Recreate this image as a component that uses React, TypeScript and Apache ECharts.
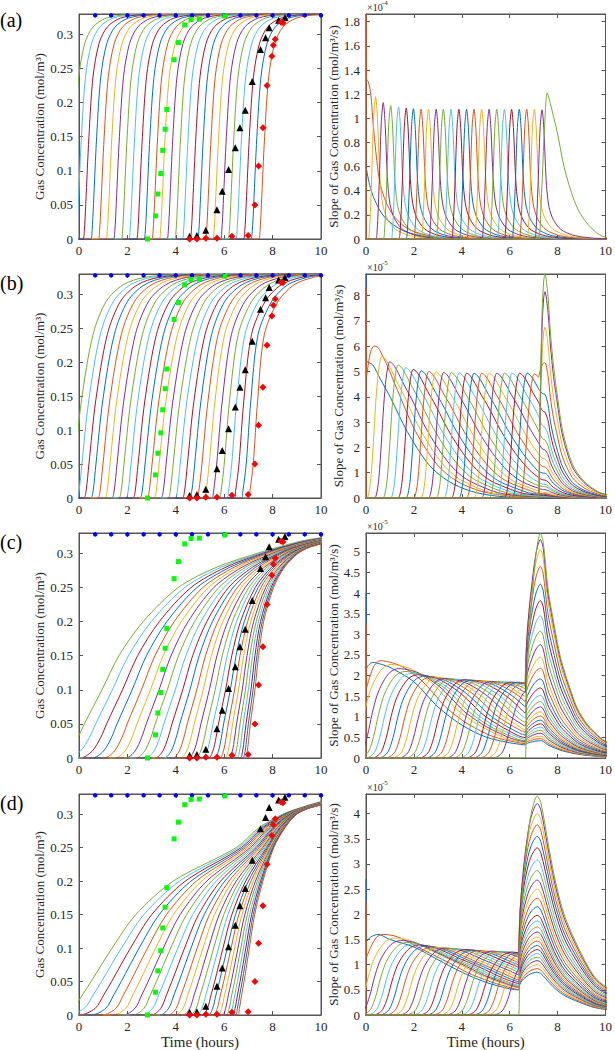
import React, { useEffect, useRef } from "react";
import * as echarts from "echarts";

type Pt = [number, number];

const LINE_COLORS = ["#0072BD", "#D95319", "#EDB120", "#7E2F8E", "#77AC30", "#4DBEEE", "#A2142F"];
const FONT = "Liberation Serif, Times New Roman, serif";

// ---------------- measured markers (same in every concentration panel) ----------------
const blueDots: Pt[] = [[0.67, 0.328], [1.33, 0.328], [2.0, 0.328], [2.67, 0.328], [3.33, 0.328], [4.0, 0.328], [4.67, 0.328], [5.33, 0.328], [6.0, 0.328], [6.67, 0.328], [7.33, 0.328], [8.0, 0.328], [8.67, 0.328], [9.33, 0.328], [10.0, 0.328]];
const greenSquares: Pt[] = [[2.83, 0.0], [3.16, 0.034], [3.26, 0.066], [3.38, 0.096], [3.46, 0.13], [3.56, 0.161], [3.63, 0.19], [3.93, 0.263], [4.11, 0.288], [4.37, 0.314], [4.63, 0.322], [4.97, 0.3225], [6.03, 0.327]];
const blackTriangles: Pt[] = [[4.57, 0.004], [4.87, 0.005], [5.24, 0.013], [5.7, 0.043], [5.92, 0.07], [6.18, 0.102], [6.46, 0.134], [6.65, 0.163], [6.87, 0.189], [7.16, 0.231], [7.5, 0.278], [7.71, 0.295], [7.86, 0.31], [8.25, 0.321], [8.51, 0.325]];
const redDiamonds: Pt[] = [[4.57, 0.0], [4.87, 0.0], [5.24, 0.001], [5.7, 0.001], [6.32, 0.004], [6.99, 0.005], [7.27, 0.05], [7.42, 0.107], [7.6, 0.163], [7.77, 0.225], [7.97, 0.268], [8.03, 0.284], [8.11, 0.293], [8.35, 0.318], [8.43, 0.317]];

// ---------------- (a) concentration: rise start of each curve + curve shape ----------------
const concA_starts = [-0.41, -0.13, 0.18, 0.5, 0.81, 1.13, 1.44, 1.76, 2.07, 2.39, 2.7, 3.02, 3.33, 3.65, 3.97, 4.28, 4.6, 4.91, 5.23, 5.54, 5.86, 6.17, 6.49, 6.81, 7.12, 7.44];
const concA_shape: Pt[] = [[-0.6, 0], [-0.03, 0], [0.04, 0.012], [0.1, 0.052], [0.23, 0.15], [0.4, 0.238], [0.65, 0.287], [0.99, 0.311], [1.54, 0.324], [2.5, 0.329], [12, 0.33]];

// ---------------- (b) concentration: time at which each curve crosses each level ----------------
const concB_levels = [0, 0.01, 0.05, 0.143, 0.241, 0.29, 0.314, 0.325, 0.329];
const concB_times = [
  [-0.4, -0.3, -0.18, 0.1, 0.58, 1.13, 1.82, 2.7, 4.1],
  [-0.1, 0.0, 0.12, 0.4, 0.88, 1.43, 2.12, 3.0, 4.4],
  [0.19, 0.29, 0.41, 0.69, 1.17, 1.72, 2.41, 3.29, 4.69],
  [0.48, 0.58, 0.7, 0.98, 1.46, 2.01, 2.7, 3.58, 4.98],
  [0.77, 0.87, 0.99, 1.27, 1.75, 2.3, 2.99, 3.87, 5.27],
  [1.06, 1.16, 1.28, 1.56, 2.04, 2.59, 3.28, 4.16, 5.56],
  [1.35, 1.45, 1.57, 1.85, 2.33, 2.88, 3.57, 4.45, 5.85],
  [1.64, 1.74, 1.86, 2.14, 2.62, 3.17, 3.86, 4.74, 6.14],
  [1.93, 2.03, 2.15, 2.43, 2.91, 3.46, 4.15, 5.03, 6.43],
  [2.22, 2.32, 2.44, 2.72, 3.2, 3.75, 4.44, 5.32, 6.72],
  [2.51, 2.61, 2.73, 3.01, 3.49, 4.04, 4.73, 5.61, 7.01],
  [2.8, 2.9, 3.02, 3.3, 3.78, 4.33, 5.02, 5.9, 7.3],
  [3.09, 3.19, 3.31, 3.59, 4.07, 4.62, 5.31, 6.19, 7.59],
  [3.38, 3.48, 3.6, 3.88, 4.36, 4.91, 5.6, 6.48, 7.88],
  [3.67, 3.77, 3.89, 4.17, 4.65, 5.2, 5.89, 6.77, 8.17],
  [3.96, 4.06, 4.18, 4.46, 4.94, 5.49, 6.18, 7.06, 8.46],
  [4.26, 4.36, 4.48, 4.75, 5.21, 5.76, 6.45, 7.32, 8.65],
  [4.56, 4.66, 4.78, 5.04, 5.48, 6.03, 6.72, 7.58, 8.84],
  [4.87, 4.95, 5.08, 5.33, 5.75, 6.31, 6.98, 7.84, 9.03],
  [5.17, 5.25, 5.38, 5.62, 6.02, 6.58, 7.25, 8.1, 9.22],
  [5.48, 5.56, 5.69, 5.92, 6.3, 6.86, 7.53, 8.37, 9.42],
  [5.79, 5.87, 6.0, 6.22, 6.58, 7.14, 7.81, 8.64, 9.62],
  [6.1, 6.18, 6.31, 6.52, 6.86, 7.42, 8.09, 8.91, 9.82],
  [6.41, 6.47, 6.61, 6.81, 7.13, 7.7, 8.35, 9.17, 10.01],
  [6.71, 6.77, 6.91, 7.1, 7.4, 7.97, 8.62, 9.43, 10.2],
  [7.0, 7.06, 7.2, 7.38, 7.66, 8.23, 8.88, 9.68, 10.38],
];

// ---------------- (c) and (d) concentration: level crossings of the first and last curve,
// and where each curve sits between them (0 = first curve, 1 = last curve) ----------------
const concCD_levels = [0, 0.01, 0.03, 0.05, 0.1, 0.15, 0.2, 0.25, 0.28, 0.3, 0.31, 0.32, 0.33];
const concC_firstTimes = [-1.0, -0.45, -0.05, 0.22, 0.95, 1.65, 2.65, 4.1, 5.7, 7.35, 8.3, 9.45, 11.5];
const concC_lastTimes = [6.85, 6.95, 7.02, 7.08, 7.27, 7.42, 7.63, 8.04, 8.5, 9.05, 9.6, 10.8, 13];
const concD_firstTimes = [-1.0, -0.25, 0.14, 0.5, 1.37, 2.35, 3.9, 6.5, 7.45, 8.43, 9.2, 10.2, 12.5];
const concD_lastTimes = [6.55, 6.63, 6.72, 6.82, 7.04, 7.26, 7.6, 8.05, 8.52, 9.0, 9.6, 10.9, 13];
const concCD_spread = [0, 0.068, 0.134, 0.197, 0.258, 0.317, 0.373, 0.427, 0.479, 0.528, 0.575, 0.62, 0.662, 0.702, 0.74, 0.775, 0.808, 0.839, 0.867, 0.893, 0.917, 0.938, 0.957, 0.974, 0.988, 1.0];

// ---------------- (a) slope (x1e-4) ----------------
const slopeA_shape: Pt[] = [[-12, 0], [-0.34, 0], [-0.26, 0.05], [-0.17, 0.4], [-0.08, 0.86], [0, 1], [0.08, 0.84], [0.17, 0.46], [0.27, 0.27], [0.42, 0.17], [0.65, 0.1], [0.9, 0.06], [1.4, 0.025], [2.2, 0.006], [3.5, 0], [12, 0]];
const slopeA_peakT = [0.4, 0.72, 1.03, 1.36, 1.68, 1.98, 2.3, 2.61, 2.93, 3.23, 3.55, 3.88, 4.2, 4.51, 4.83, 5.14, 5.46, 5.78, 6.08, 6.4, 6.71, 7.03, 7.35];
const slopeA_peakH = [1.18, 1.13, 1.105, 1.095, 1.085, 1.08, 1.075, 1.075, 1.075, 1.075, 1.075, 1.075, 1.075, 1.075, 1.075, 1.075, 1.075, 1.075, 1.075, 1.075, 1.075, 1.075, 1.07];
const slopeA_first: Pt[] = [[0, 0.6], [0.15, 0.45], [0.37, 0.32], [0.78, 0.18], [1.54, 0.07], [2.5, 0.02], [4, 0], [12, 0]];
const slopeA_second: Pt[] = [[0, 0], [0, 1.86], [0.015, 1.33], [0.1, 1.3], [0.2, 1.2], [0.3, 0.95], [0.45, 0.65], [0.6, 0.45], [0.85, 0.3], [1.2, 0.18], [1.8, 0.08], [2.8, 0.02], [4, 0], [12, 0]];
const slopeA_last: Pt[] = [[-12, 0], [6.9, 0], [7.22, 0.02], [7.3, 0.25], [7.36, 0.5], [7.46, 0.95], [7.57, 1.21], [7.7, 1.12], [8.0, 0.87], [8.28, 0.59], [8.69, 0.32], [9.04, 0.18], [9.52, 0.07], [10, 0.014], [11, 0]];

// ---------------- (b) slope (x1e-5) ----------------
const slopeB_shape: Pt[] = [[-12, 0], [-0.65, 0], [-0.55, 0.03], [-0.45, 0.15], [-0.35, 0.4], [-0.25, 0.68], [-0.15, 0.88], [-0.07, 0.97], [0, 1], [0.15, 0.98], [0.35, 0.92], [0.6, 0.83], [0.85, 0.75], [1.1, 0.66], [1.4, 0.55], [1.75, 0.44], [2.15, 0.33], [2.65, 0.22], [3.1, 0.15], [3.5, 0.11], [4.5, 0.04], [5.5, 0.015], [7, 0], [12, 0]];
const slopeB_peakT = [0.66, 0.99, 1.34, 1.66, 1.97, 2.3, 2.62, 2.92, 3.24, 3.56, 3.89, 4.2, 4.51, 4.83, 5.14, 5.46, 5.78, 6.1, 6.41, 6.73, 7.03, 7.8, 8.1, 8.4];
const slopeB_peakH = [5.6, 5.38, 5.25, 5.15, 5.08, 5.03, 5.0, 4.98, 4.96, 4.95, 4.94, 4.93, 4.93, 4.93, 4.93, 4.93, 4.93, 4.93, 4.93, 4.93, 4.9, 4.9, 4.9, 4.9];
const slopeB_first: Pt[] = [[0, 8.9], [0.003, 5.45], [0.28, 5.26], [0.6, 4.7], [1.03, 3.95], [1.72, 2.63], [2.62, 1.32], [3.45, 0.66], [4.41, 0.26], [5.5, 0.07], [7, 0.01], [12, 0]];
const slopeB_second: Pt[] = [[0, 0], [0, 8.3], [0.02, 4.8], [0.1, 5.3], [0.2, 5.8], [0.34, 6.0], [0.5, 5.95], [0.7, 5.6], [0.9, 5.2], [1.45, 3.95], [2.07, 2.63], [2.97, 1.32], [3.8, 0.66], [4.83, 0.26], [6, 0.08], [7.5, 0.02], [12, 0]];
const slopeB_late = [0.01, 0.015, 0.02, 0.03, 0.05, 0.07, 0.1, 0.14, 0.17, 0.22, 0.33, 0.45, 0.54, 0.71, 0.98, 1.23, 1.55, 1.9, 2.3, 2.8, 3.4, 4.1, 5.35, 6.75, 8.15, 8.85];
const slopeB_frontT = 7.2;
const slopeB_riseX = [7.2, 7.25, 7.3, 7.36, 7.42, 7.47];
const slopeB_riseR = [0, 0.3, 0.6, 0.85, 0.97, 1];
const slopeB_decX = [7.6, 7.7, 7.83, 8.0, 8.21, 8.62, 9.1, 9.66, 10, 10.5];
const slopeB_decD = [0.9, 0.74, 0.59, 0.45, 0.3, 0.15, 0.075, 0.03, 0.017, 0.008];

// ---------------- (c) slope (x1e-5) ----------------
const slopeC_shape: Pt[] = [[-12, 0], [-1.9, 0], [-1.7, 0.02], [-1.5, 0.08], [-1.3, 0.25], [-1.1, 0.5], [-0.9, 0.7], [-0.65, 0.85], [-0.35, 0.96], [0, 1], [0.5, 0.98], [1.0, 0.93], [1.7, 0.8], [2.2, 0.67], [2.7, 0.53], [3.2, 0.43], [3.7, 0.345], [4.7, 0.22], [5.7, 0.16], [6.5, 0.13], [8, 0.09], [12, 0.05]];
const slopeC_peakT = [1.05, 1.36, 1.62, 1.88, 2.15, 2.43, 2.72, 3.0, 3.28, 3.56, 3.84, 4.12, 4.4, 4.68, 4.96, 5.24, 5.52, 5.8, 6.08, 6.36, 6.64, 6.92, 7.2, 9.0];
const slopeC_peakH = [2.27, 2.17, 2.1, 2.05, 2.02, 1.99, 1.97, 1.95, 1.93, 1.92, 1.91, 1.9, 1.89, 1.88, 1.87, 1.86, 1.85, 1.85, 1.84, 1.84, 1.83, 1.83, 1.83, 1.83];
const slopeC_first: Pt[] = [[0, 4.0], [0.005, 2.15], [0.1, 2.25], [0.28, 2.32], [0.6, 2.28], [1, 2.2], [2, 1.85], [3, 1.24], [4, 0.8], [5, 0.51], [6, 0.37], [6.6, 0.32], [7, 0.3]];
const slopeC_second: Pt[] = [[0, 0], [0, 3.25], [0.02, 1.7], [0.15, 1.95], [0.35, 2.25], [0.6, 2.36], [1.1, 2.31], [1.6, 2.19], [2.3, 1.89], [2.8, 1.58], [3.3, 1.25], [3.8, 1.01], [4.3, 0.81], [5.3, 0.52], [6.3, 0.38], [7.1, 0.31]];
const slopeC_late = [0.42, 0.47, 0.53, 0.6, 0.67, 0.75, 0.83, 0.92, 1.02, 1.12, 1.24, 1.37, 1.52, 1.7, 1.92, 2.18, 2.45, 2.75, 3.08, 3.45, 3.82, 4.22, 4.65, 5.05, 5.3, 5.45];
const slopeC_frontT = 6.65;
const slopeC_riseX = [6.65, 6.7, 6.8, 6.95, 7.1, 7.28];
const slopeC_riseR = [0, 0.3, 0.52, 0.74, 0.91, 1];
const slopeC_decX = [7.4, 7.59, 7.86, 8.14, 8.55, 8.83, 9.24, 9.79, 10, 10.5];
const slopeC_decD = [0.96, 0.76, 0.59, 0.44, 0.3, 0.22, 0.15, 0.09, 0.075, 0.05];

// ---------------- (d) slope (x1e-5) ----------------
const slopeD_shape: Pt[] = [[-12, 0], [-1.9, 0], [-1.7, 0.02], [-1.5, 0.08], [-1.3, 0.25], [-1.1, 0.5], [-0.9, 0.7], [-0.65, 0.85], [-0.35, 0.96], [0, 1], [0.5, 0.98], [1.0, 0.92], [1.5, 0.84], [2.0, 0.765], [2.5, 0.69], [3.0, 0.61], [3.5, 0.53], [4.5, 0.41], [5.5, 0.325], [6.5, 0.27], [8, 0.2], [12, 0.1]];
const slopeD_peakT = [1.2, 1.45, 1.7, 1.95, 2.2, 2.47, 2.74, 3.02, 3.3, 3.58, 3.86, 4.14, 4.42, 4.7, 4.98, 5.26, 5.54, 5.82, 6.1, 6.38, 6.66, 6.94, 7.22, 9.0];
const slopeD_peakH = [1.53, 1.48, 1.44, 1.41, 1.39, 1.37, 1.35, 1.34, 1.33, 1.32, 1.31, 1.3, 1.29, 1.28, 1.27, 1.27, 1.26, 1.26, 1.25, 1.25, 1.25, 1.25, 1.25, 1.25];
const slopeD_first: Pt[] = [[0, 2.7], [0.004, 1.45], [0.2, 1.55], [0.5, 1.6], [1, 1.5], [2, 1.35], [3, 1.1], [4, 0.85], [5, 0.65], [6, 0.52], [6.37, 0.5], [7, 0.48]];
const slopeD_second: Pt[] = [[0, 0], [0, 2.25], [0.02, 1.15], [0.2, 1.35], [0.45, 1.55], [0.7, 1.6], [1.2, 1.57], [1.7, 1.47], [2.2, 1.34], [2.7, 1.22], [3.2, 1.1], [3.7, 0.98], [4.2, 0.85], [5.2, 0.66], [6.2, 0.52], [7.2, 0.43]];
const slopeD_late = [0.85, 0.92, 1.0, 1.08, 1.15, 1.22, 1.3, 1.38, 1.47, 1.55, 1.65, 1.75, 1.87, 1.98, 2.15, 2.32, 2.5, 2.68, 2.87, 3.08, 3.32, 3.55, 3.78, 4.0, 4.2, 4.35];
const slopeD_frontT = 6.37;
const slopeD_riseX = [6.37, 6.42, 6.52, 6.68, 6.88, 7.15];
const slopeD_riseR = [0, 0.3, 0.52, 0.74, 0.91, 1];
const slopeD_decX = [7.3, 7.66, 7.93, 8.3, 8.9, 9.52, 10, 10.5];
const slopeD_decD = [0.97, 0.75, 0.6, 0.45, 0.3, 0.177, 0.13, 0.1];

// ---------------- axis tick settings ----------------
const X_TICKS = { min: 0, max: 10, interval: 2 };
const CONC_Y = { min: 0, max: 0.33, interval: 0.05 };
const SLOPE_Y = [
  { min: 0, max: 1.864, interval: 0.2, exp: "-4" },
  { min: 0, max: 8.85, interval: 1, exp: "-5" },
  { min: 0, max: 5.46, interval: 0.5, exp: "-5" },
  { min: 0, max: 4.39, interval: 0.5, exp: "-5" },
];
const PANEL_LABELS = ["(a)", "(b)", "(c)", "(d)"];

// ---------------- helpers to assemble the curves from the tables ----------------
function interpAt(pts: Pt[], x: number): number {
  if (x <= pts[0][0]) return pts[0][1];
  for (let i = 1; i < pts.length; i++) {
    if (x <= pts[i][0]) {
      const [x0, y0] = pts[i - 1];
      const [x1, y1] = pts[i];
      return x1 === x0 ? y1 : y0 + ((y1 - y0) * (x - x0)) / (x1 - x0);
    }
  }
  return pts[pts.length - 1][1];
}

function shiftedCurves(starts: number[], shape: Pt[]): Pt[][] {
  return starts.map((t0) => shape.map(([dx, y]) => [t0 + dx, y] as Pt));
}

function levelCurves(levels: number[], rows: number[][]): Pt[][] {
  return rows.map((row) => [[row[0] - 0.6, 0] as Pt, ...row.map((t, i) => [t, levels[i]] as Pt), [12, 0.33] as Pt]);
}

function spreadCurves(levels: number[], first: number[], last: number[], spread: number[]): Pt[][] {
  return spread.map((f) => {
    const pts: Pt[] = levels.map((L, i) => [first[i] + (last[i] - first[i]) * f, L] as Pt);
    return [[pts[0][0] - 3, 0] as Pt, ...pts];
  });
}

function peakCurve(shape: Pt[], peakT: number, peakH: number): Pt[] {
  return shape.map(([dx, y]) => [peakT + dx, peakH * y] as Pt);
}

function withLate(early: Pt[], frontT: number, H: number, riseX: number[], riseR: number[], decX: number[], decD: number[]): Pt[] {
  const pts = early.filter((p) => p[0] < frontT);
  const v = interpAt(early, frontT);
  pts.push([frontT, v]);
  for (let i = 1; i < riseX.length; i++) pts.push([riseX[i], v + (H - v) * riseR[i]]);
  decX.forEach((x, i) => pts.push([x, H * decD[i]]));
  return pts;
}

function buildOption() {
  const concA = shiftedCurves(concA_starts, concA_shape);
  const concB = levelCurves(concB_levels, concB_times);
  const concC = spreadCurves(concCD_levels, concC_firstTimes, concC_lastTimes, concCD_spread);
  const concD = spreadCurves(concCD_levels, concD_firstTimes, concD_lastTimes, concCD_spread);

  const slopeA = [slopeA_first, slopeA_second, ...slopeA_peakT.map((p, i) => peakCurve(slopeA_shape, p, slopeA_peakH[i])), slopeA_last];
  const earlyB = [slopeB_first, slopeB_second, ...slopeB_peakT.map((p, i) => peakCurve(slopeB_shape, p, slopeB_peakH[i]))];
  const slopeB = earlyB.map((e, k) => withLate(e, slopeB_frontT, slopeB_late[k], slopeB_riseX, slopeB_riseR, slopeB_decX, slopeB_decD));
  const earlyC = [slopeC_first, slopeC_second, ...slopeC_peakT.map((p, i) => peakCurve(slopeC_shape, p, slopeC_peakH[i]))];
  const slopeC = earlyC.map((e, k) => withLate(e, slopeC_frontT, slopeC_late[k], slopeC_riseX, slopeC_riseR, slopeC_decX, slopeC_decD));
  const earlyD = [slopeD_first, slopeD_second, ...slopeD_peakT.map((p, i) => peakCurve(slopeD_shape, p, slopeD_peakH[i]))];
  const slopeD = earlyD.map((e, k) => withLate(e, slopeD_frontT, slopeD_late[k], slopeD_riseX, slopeD_riseR, slopeD_decX, slopeD_decD));

  const concSets = [concA, concB, concC, concD];
  const slopeSets = [slopeA, slopeB, slopeC, slopeD];

  const ROW_TOPS = [14, 274, 533, 794];
  const ROW_H = [225, 224, 225, 224];
  const LEFT_X = 79;
  const RIGHT_X = 366;
  const PLOT_W = 242;
  const AX = "#555555";
  const TXT = "#262626";

  const grids: any[] = [];
  const xAxes: any[] = [];
  const yAxes: any[] = [];
  const series: any[] = [];
  const graphics: any[] = [];

  const base = (r: { min: number; max: number; interval: number }) => ({
    type: "value",
    min: r.min,
    max: r.max,
    interval: r.interval,
    axisLine: { show: true, onZero: false, lineStyle: { color: AX, width: 1 } },
    axisTick: { show: true, inside: true, length: 4, lineStyle: { color: AX, width: 1 } },
    splitLine: { show: false },
  });

  const mirrorsX: any[] = [];
  const mirrorsY: any[] = [];

  for (let r = 0; r < 4; r++) {
    for (let c = 0; c < 2; c++) {
      const g = r * 2 + c;
      grids.push({ left: c === 0 ? LEFT_X : RIGHT_X, top: ROW_TOPS[r], width: PLOT_W, height: ROW_H[r], show: true, borderColor: AX, borderWidth: 1, backgroundColor: "#ffffff" });
      const xa: any = {
        ...base(X_TICKS),
        gridIndex: g,
        position: "bottom",
        axisLabel: { fontFamily: FONT, fontSize: 13, color: TXT, margin: 5 },
      };
      if (r === 3) {
        xa.name = "Time (hours)";
        xa.nameLocation = "middle";
        xa.nameGap = 19;
        xa.nameTextStyle = { fontFamily: FONT, fontSize: 15, color: TXT };
      }
      xAxes.push(xa);
      mirrorsX.push({ ...base(X_TICKS), gridIndex: g, position: "top", axisLabel: { show: false } });

      const yr = c === 0 ? CONC_Y : SLOPE_Y[r];
      yAxes.push({
        ...base(yr),
        gridIndex: g,
        position: "left",
        axisLabel: { fontFamily: FONT, fontSize: 13, color: TXT, margin: 6, showMaxLabel: false },
        name: c === 0 ? "Gas Concentration (mol/m³)" : "Slope of Gas Concentration (mol/m³/s)",
        nameLocation: "middle",
        nameGap: c === 0 ? 26 : 21,
        nameTextStyle: { fontFamily: FONT, fontSize: 13, color: TXT },
      });
      mirrorsY.push({ ...base(yr), gridIndex: g, position: "right", axisLabel: { show: false } });

      const curves = c === 0 ? concSets[r] : slopeSets[r];
      const offset = c === 0 ? 4 : 0;
      curves.forEach((data, j) => {
        series.push({
          type: "line",
          xAxisIndex: g,
          yAxisIndex: g,
          data,
          symbol: "none",
          showSymbol: false,
          smooth: 0.3,
          silent: true,
          clip: true,
          lineStyle: { width: 1, color: LINE_COLORS[(j + offset) % 7] },
          z: 2,
        });
      });

      if (c === 0) {
        const scat = (data: Pt[], symbol: string, size: number, color: string) => ({
          type: "scatter",
          xAxisIndex: g,
          yAxisIndex: g,
          data,
          symbol,
          symbolSize: size,
          silent: true,
          itemStyle: { color, opacity: 1 },
          z: 4,
        });
        series.push(scat(blueDots, "circle", 4.5, "#0000FF"));
        series.push(scat(greenSquares, "rect", 5, "#00FF00"));
        series.push(scat(blackTriangles, "triangle", 7, "#000000"));
        series.push(scat(redDiamonds, "diamond", 7, "#FF0000"));
        graphics.push({
          type: "text",
          x: 0,
          y: ROW_TOPS[r] + (r === 0 ? 6 : 9),
          style: { text: PANEL_LABELS[r], fontFamily: FONT, fontSize: 20, fill: "#000", verticalAlign: "middle", align: "left" },
        });
      } else {
        graphics.push({
          type: "text",
          x: RIGHT_X + 1,
          y: ROW_TOPS[r] - 7,
          style: { text: "×10", fontFamily: FONT, fontSize: 10, fill: TXT, verticalAlign: "middle", align: "left" },
        });
        graphics.push({
          type: "text",
          x: RIGHT_X + 16,
          y: ROW_TOPS[r] - 11,
          style: { text: SLOPE_Y[r].exp, fontFamily: FONT, fontSize: 7, fill: TXT, verticalAlign: "middle", align: "left" },
        });
      }
    }
  }

  return {
    animation: false,
    backgroundColor: "#ffffff",
    textStyle: { fontFamily: FONT },
    grid: grids,
    xAxis: [...xAxes, ...mirrorsX],
    yAxis: [...yAxes, ...mirrorsY],
    series,
    graphic: graphics,
  };
}

export default function App() {
  const ref = useRef<HTMLDivElement>(null);
  useEffect(() => {
    if (!ref.current) return;
    const chart = echarts.init(ref.current, null, { renderer: "svg" });
    chart.setOption(buildOption() as any);
    return () => chart.dispose();
  }, []);
  return <div ref={ref} style={{ position: "absolute", left: 0, top: 0, width: 615, height: 1050, background: "#ffffff" }} />;
}
